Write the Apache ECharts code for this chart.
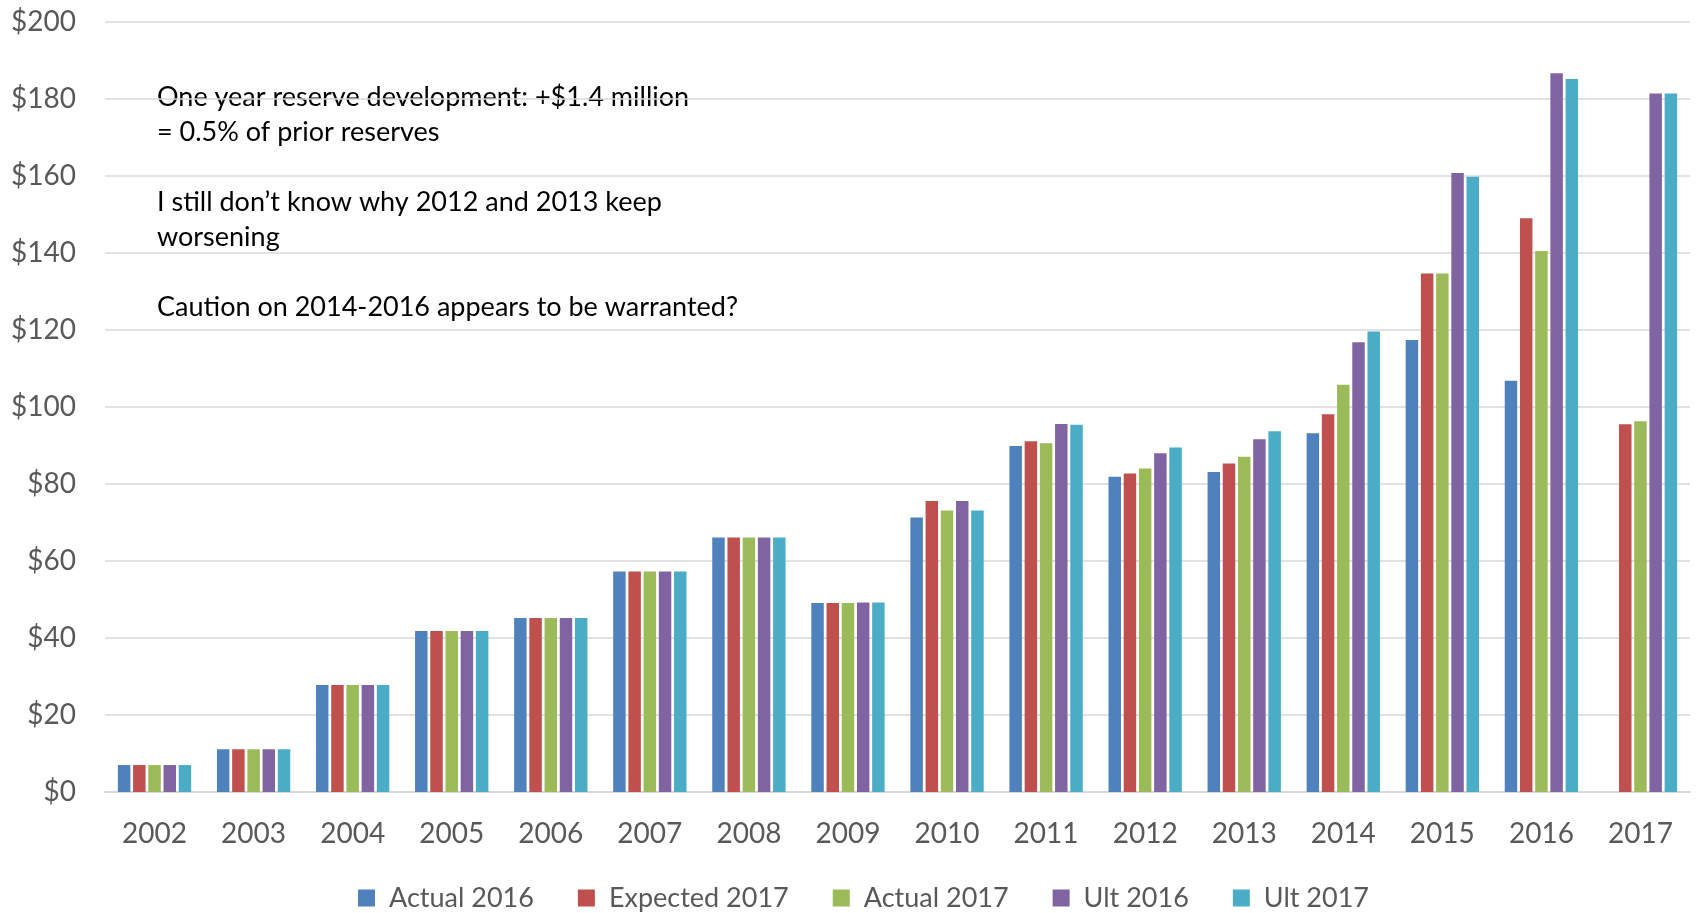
<!DOCTYPE html>
<html>
<head>
<meta charset="utf-8">
<script src="https://cdn.jsdelivr.net/npm/echarts@6/dist/echarts.min.js"></script>
<style>
  html, body { margin: 0; padding: 0; background: #fff; }
  #chart { width: 1696px; height: 913px; }
</style>
</head>
<body>
<div id="chart"></div>
<script>
// Accident years on the category axis
const years = ['2002','2003','2004','2005','2006','2007','2008','2009','2010','2011','2012','2013','2014','2015','2016','2017'];

// Losses by accident year ($ millions)
const actual2016   = [7.0, 11.1, 27.8, 41.8, 45.2, 57.3, 66.1, 49.1, 71.3, 89.9, 81.9, 83.1, 93.2, 117.4, 106.8, null];
const expected2017 = [7.0, 11.1, 27.8, 41.8, 45.2, 57.3, 66.1, 49.1, 75.6, 91.1, 82.7, 85.3, 98.1, 134.7, 149.0, 95.5];
const actual2017   = [7.0, 11.1, 27.8, 41.8, 45.2, 57.3, 66.1, 49.1, 73.1, 90.6, 84.0, 87.1, 105.8, 134.7, 140.5, 96.3];
const ult2016      = [7.0, 11.1, 27.8, 41.8, 45.2, 57.3, 66.1, 49.2, 75.6, 95.6, 88.0, 91.6, 116.8, 160.8, 186.7, 181.4];
const ult2017      = [7.0, 11.1, 27.8, 41.8, 45.2, 57.3, 66.1, 49.2, 73.1, 95.4, 89.5, 93.7, 119.6, 159.8, 185.2, 181.4];

const seriesNames = ['Actual 2016', 'Expected 2017', 'Actual 2017', 'Ult 2016', 'Ult 2017'];
const seriesColors = ['#4F81BD', '#C0504D', '#9BBB59', '#8064A2', '#4BACC6'];

// Commentary shown over the upper-left of the plot
const noteLines = [
  'One year reserve development: +$1.4 million',
  '= 0.5% of prior reserves',
  '',
  'I still don\u2019t know why 2012 and 2013 keep',
  'worsening',
  '',
  'Caution on 2014-2016 appears to be warranted?'
];

const FONT = 'Lato, "Open Sans", sans-serif';
const chart = echarts.init(document.getElementById('chart'), null, { renderer: 'canvas' });

const dataSets = [actual2016, expected2017, actual2017, ult2016, ult2017];

chart.setOption({
  animation: false,
  backgroundColor: '#ffffff',
  textStyle: { fontFamily: FONT },
  grid: { left: 105, right: 6, top: 22, bottom: 121, containLabel: false },
  legend: {
    data: seriesNames,
    left: 353,
    top: 878,
    itemWidth: 17,
    itemHeight: 17,
    itemGap: 44,
    icon: 'rect',
    textStyle: { fontFamily: FONT, fontSize: 27, color: '#595959', padding: [0, 0, 0, 9], lineHeight: 30 }
  },
  xAxis: {
    type: 'category',
    data: years,
    axisLine: { lineStyle: { color: '#d9d9d9', width: 2 } },
    axisTick: { show: false },
    axisLabel: { fontFamily: FONT, fontSize: 28, color: '#595959', margin: 28 }
  },
  yAxis: {
    type: 'value',
    min: 0,
    max: 200,
    interval: 20,
    axisLine: { show: false },
    axisTick: { show: false },
    splitLine: { lineStyle: { color: '#d9d9d9', width: 1.5 } },
    axisLabel: {
      fontFamily: FONT, fontSize: 28, color: '#595959', margin: 29,
      formatter: v => '$' + v
    }
  },
  series: seriesNames.map((name, i) => ({
    name,
    type: 'bar',
    data: dataSets[i],
    barGap: '22%',
    barCategoryGap: '26%',
    itemStyle: { color: seriesColors[i] }
  })),
  graphic: [{
    type: 'text',
    left: 157,
    top: 80,
    style: {
      text: noteLines.join('\n'),
      font: '27px ' + FONT,
      fill: '#000000',
      lineHeight: 35
    }
  }]
});
</script>
</body>
</html>
